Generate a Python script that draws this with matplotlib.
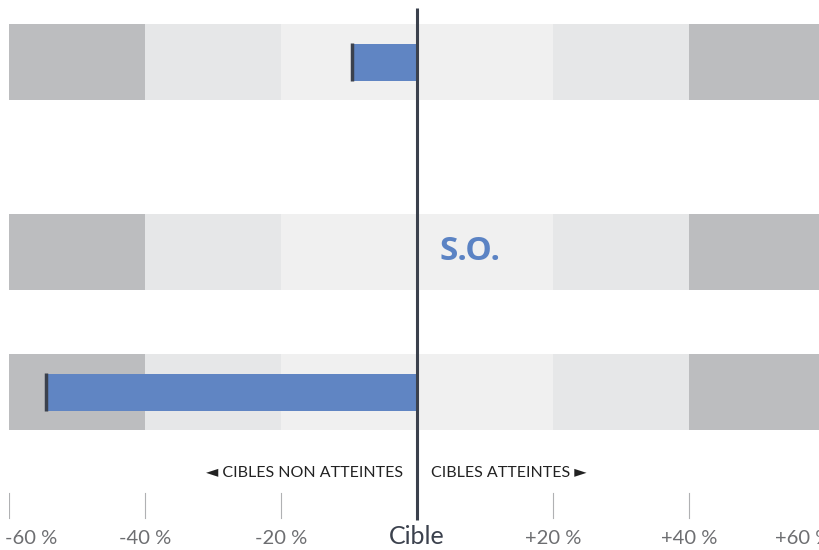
import matplotlib.pyplot as plt

# data
rows = ["Ligne 1", "Ligne 2", "Ligne 3"]
values = [-9.5, None, -54.5]          # écart à la cible (%), None = sans objet
na_label = "S.O."
tick_vals = [-60, -40, -20, 0, 20, 40, 60]
tick_labels = ["-60 %", "-40 %", "-20 %", "Cible", "+20 %", "+40 %", "+60 %"]
zones = [(-60, -40), (-40, -20), (-20, 0), (0, 20), (20, 40), (40, 60)]

# layout (pixel-like units, y down)
row_y = [62, 252, 392]
band_h = 76
bar_h = 37
zone_colors = ["#bcbdbf", "#e6e7e8", "#f0f0f0", "#f0f0f0", "#e6e7e8", "#bcbdbf"]
bar_color = "#6085c3"
dark = "#3b414d"

plt.rcParams['font.family'] = ['Lato', 'DejaVu Sans']

fig = plt.figure(figsize=(8.19, 5.5), dpi=100)
ax = fig.add_axes([9 / 819, 0, 816 / 819, 1])
ax.set_xlim(-60, 60)
ax.set_ylim(550, 0)
ax.axis('off')

for y in row_y:
    for (lo, hi), c in zip(zones, zone_colors):
        ax.barh(y, hi - lo, left=lo, height=band_h, color=c, linewidth=0, zorder=1)

for y, v in zip(row_y, values):
    if v is None:
        ax.text(3.3, y, na_label, color="#5b83c4", fontsize=24, fontweight='bold',
                family=['Open Sans', 'DejaVu Sans'], ha='left', va='center', zorder=4)
        continue
    ax.barh(y, v, height=bar_h, color=bar_color, linewidth=0, zorder=2)
    ax.plot([v, v], [y - bar_h / 2 - 0.5, y + bar_h / 2 + 0.5], color=dark, lw=2.5,
            solid_capstyle='butt', zorder=3)

# target line
ax.plot([0, 0], [8, 520], color=dark, lw=2.2, zorder=5, solid_capstyle='butt')

# tick marks and labels
for t, lab in zip(tick_vals, tick_labels):
    if t != 0:
        ax.plot([t, t], [493, 518], color="#b0b1b3", lw=0.8)
    if t == 0:
        ax.text(t, 537, lab, color=dark, fontsize=18, ha='center', va='center')
    else:
        x = t
        if t == -60:
            x = -56.8
        elif t == 60:
            x = 56.8
        ax.text(x, 538, lab, color="#6d6e71", fontsize=14.5, ha='center', va='center')

ax.text(-2.0, 473, "◄ CIBLES NON ATTEINTES", color="#222222", fontsize=11.5,
        ha='right', va='center')
ax.text(2.0, 473, "CIBLES ATTEINTES ►", color="#222222", fontsize=11.5,
        ha='left', va='center')

fig.savefig("out.png", dpi=100)
